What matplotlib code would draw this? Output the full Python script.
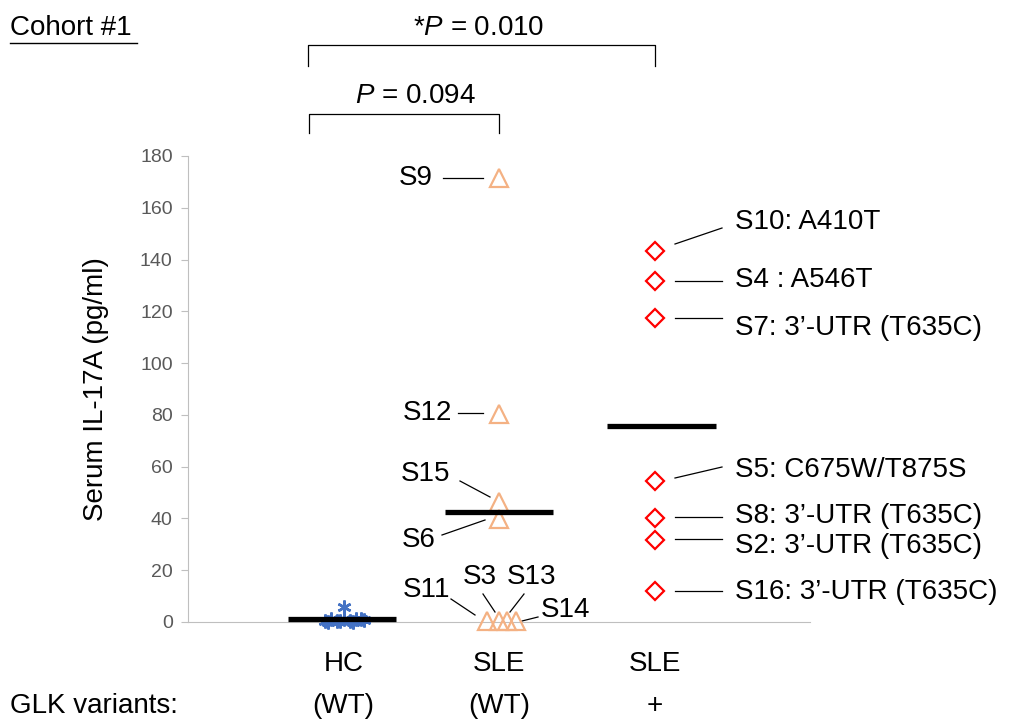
import matplotlib
matplotlib.use("Agg")
import matplotlib.pyplot as plt
import numpy as np
from matplotlib.lines import Line2D

plt.rcParams['font.family'] = ['Liberation Sans', 'DejaVu Sans']
plt.rcParams['mathtext.fontset'] = 'custom'
plt.rcParams['mathtext.it'] = 'Liberation Sans:italic'
plt.rcParams['mathtext.rm'] = 'Liberation Sans'

# ---- data ----
groups = ["HC", "SLE", "SLE"]
group_sub = ["(WT)", "(WT)", "+"]
group_x = [1, 2, 3]

hc_x = [1.00, 0.88, 0.92, 0.96, 1.00, 1.04, 1.08, 1.13, 0.90, 0.98, 1.06, 1.11]
hc_y = [5.8, 0.3, 1.2, 0.5, 1.0, 0.4, 1.3, 0.6, 0.0, 0.2, 0.1, 1.1]

sle_labels = ["S9", "S12", "S15", "S6", "S11", "S3", "S13", "S14"]
sle_x = [2.0, 2.0, 2.0, 2.0, 1.92, 2.0, 2.05, 2.11]
sle_y = [171.5, 80.3, 46.3, 39.8, 0.3, 0.3, 0.3, 0.3]

var_labels = ["S10: A410T", "S4 : A546T", "S7: 3\u2019-UTR (T635C)", "S5: C675W/T875S",
              "S8: 3\u2019-UTR (T635C)", "S2: 3\u2019-UTR (T635C)", "S16: 3\u2019-UTR (T635C)"]
var_y = [143.3, 131.7, 117.4, 54.5, 40.2, 31.7, 12.0]

W, H = 1009, 721
fig = plt.figure(figsize=(W / 100, H / 100), dpi=100)
ax = fig.add_axes([188 / W, 1 - 622 / H, 622 / W, 466 / H])
ax.set_xlim(0, 4)
ax.set_ylim(0, 180)

FS = 20
gray = "#BFBFBF"
for s in ["top", "right"]:
    ax.spines[s].set_visible(False)
ax.spines["left"].set_color(gray)
ax.spines["bottom"].set_color(gray)
ax.set_xticks([])
ax.set_yticks(np.arange(0, 181, 20))
ax.tick_params(axis="y", colors=gray, labelcolor="#595959", labelsize=14, length=5, pad=6, direction="out")
ax.set_ylabel("Serum IL-17A (pg/ml)", fontsize=FS, labelpad=22)

# points
ax.plot(hc_x, hc_y, ls="none", marker=(6, 2, 0), ms=10, mec="#4472C4", mew=1.8, clip_on=False, zorder=3)
ax.plot(sle_x, sle_y, ls="none", marker="^", ms=13, mfc="none", mec="#F4B183", mew=1.6, clip_on=False, zorder=3)
ax.plot([3] * len(var_y), var_y, ls="none", marker="D", ms=9, mfc="none", mec="#FF0000", mew=1.6, clip_on=False, zorder=3)

# mean bars
means = [np.mean(hc_y), np.mean(sle_y), np.mean(var_y)]
centers = [0.99, 2.0, 3.045]
for c, m in zip(centers, means):
    ax.plot([c - 0.35, c + 0.35], [m, m], color="black", lw=3.8, solid_capstyle="butt", zorder=4, clip_on=False)

def px2d(px, py):
    return (px - 188) / 155.5, (622 - py) / 2.589

def seg(p1, p2):
    a = px2d(*p1); b = px2d(*p2)
    ax.add_line(Line2D([a[0], b[0]], [a[1], b[1]], color="black", lw=0.9, clip_on=False))

def txt(px, py, s, ha="left", size=FS):
    x, y = px2d(px, py)
    ax.text(x, y, s, ha=ha, va="center", fontsize=size, clip_on=False)

# SLE WT labels
txt(433, 178, "S9", ha="right"); seg((443, 178), (483, 178))
txt(452, 413, "S12", ha="right"); seg((458, 413), (483, 413))
txt(450, 474, "S15", ha="right"); seg((460, 481), (490, 497))
txt(436, 540, "S6", ha="right"); seg((442, 535), (485, 520))
txt(450, 590, "S11", ha="right"); seg((451, 599), (475, 615))
txt(480, 577, "S3", ha="center"); seg((483, 594), (495, 612))
txt(532, 577, "S13", ha="center"); seg((524, 594), (510, 612))
txt(541, 610, "S14"); seg((538, 617), (522, 621))

# variant labels
lab_py = [222, 280, 328, 470, 516, 546, 592]
line_pts = [((675, 244), (722, 228)), ((675, 281), (722, 281)), ((675, 318), (722, 318)),
            ((675, 478), (722, 467)), ((675, 517), (722, 517)), ((675, 539), (722, 539)),
            ((675, 591), (722, 591))]
for lab, py, (p1, p2) in zip(var_labels, lab_py, line_pts):
    txt(735, py, lab)
    seg(p1, p2)

# category labels
for gx, g, sub in zip(group_x, groups, group_sub):
    ax.text(gx, px2d(0, 664)[1], g, ha="center", va="center", fontsize=FS, clip_on=False)
    ax.text(gx, px2d(0, 706)[1], sub, ha="center", va="center", fontsize=FS, clip_on=False)
txt(10, 706, "GLK variants:", size=FS)

# brackets
def bracket(x1, x2, ytop, ybot, label, tx, ty):
    a = px2d(x1, ytop); b = px2d(x2, ytop)
    c = px2d(x1, ybot); d = px2d(x2, ybot)
    ax.add_line(Line2D([c[0], a[0], b[0], d[0]], [c[1], a[1], b[1], d[1]], color="black", lw=0.9, clip_on=False))
    txt(tx, ty, label, ha="center", size=FS)

bracket(309, 499, 114, 133, r"$\it{P}$ = 0.094", 415, 96)
bracket(308, 655, 45, 66, r"*$\it{P}$ = 0.010", 479, 28)

# cohort title
fig.text(10 / W, 1 - 28 / H, "Cohort #1", fontsize=FS, ha="left", va="center")
fig.add_artist(Line2D([10 / W, 137 / W], [1 - 43 / H, 1 - 43 / H], color="black", lw=1.0))

fig.savefig("out.png", dpi=100)
